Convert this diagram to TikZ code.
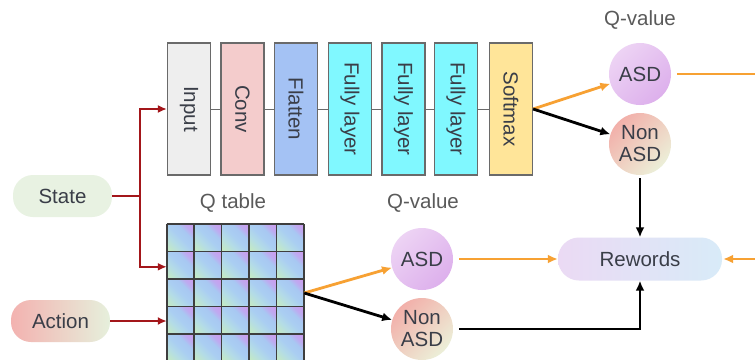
\documentclass[tikz,border=0pt]{standalone}
\usepackage{fontspec}
\setmainfont{Liberation Sans}
\usetikzlibrary{arrows.meta,calc}
\definecolor{txt}{HTML}{3A3E48}
\definecolor{lbl}{HTML}{5A5A5A}
\definecolor{boxline}{HTML}{6A6A6A}
\definecolor{gridc}{HTML}{3E3E3E}
\definecolor{cinput}{HTML}{EEEEEE}
\definecolor{cconv}{HTML}{F4CCCC}
\definecolor{cflat}{HTML}{A4C2F4}
\definecolor{cfc}{HTML}{80F8FF}
\definecolor{csoft}{HTML}{FFE599}
\definecolor{dred}{HTML}{A3161A}
\definecolor{orng}{HTML}{F7A133}
\definecolor{cgreen}{HTML}{C4EAC4}
\definecolor{cmid}{HTML}{B4DCE6}
\definecolor{cblue}{HTML}{AACEF2}
\definecolor{cblue2}{HTML}{A8C8F2}
\definecolor{cpurpA}{HTML}{BEAAF0}
\definecolor{cpurp}{HTML}{CC9CEE}
\definecolor{stateg}{HTML}{E8F2E2}
\definecolor{actl}{HTML}{F3B2B0}
\definecolor{actr}{HTML}{E6F0DC}
\definecolor{asdA}{HTML}{EDD3F4}
\definecolor{asdB}{HTML}{DDB0EC}
\definecolor{nonA}{HTML}{F2B0AA}
\definecolor{nonB}{HTML}{ECEFD8}
\definecolor{rewA}{HTML}{EBDAF4}
\definecolor{rewB}{HTML}{D8EBF8}
\pgfdeclarehorizontalshading{qcell}{100bp}{color(0bp)=(cgreen);color(18bp)=(cgreen);color(36bp)=(cmid);color(50bp)=(cblue);color(63bp)=(cblue2);color(72bp)=(cpurpA);color(84bp)=(cpurp);color(100bp)=(cpurp)}
\begin{document}
\begin{tikzpicture}[x=1pt,y=-1pt,
  every node/.style={font=\fontsize{20.5}{22}\selectfont, text=txt},
  layer/.style={draw=boxline, line width=1.2pt, minimum width=43pt, minimum height=132pt, inner sep=0pt},
  pill/.style={rounded corners=20pt, minimum width=99pt, minimum height=42pt, inner sep=0pt},
  ball/.style={circle, minimum size=62pt, inner sep=0pt, align=center},
  lab/.style={text=lbl},
  link/.style={draw=boxline, line width=1pt},
  redline/.style={draw=dred, line width=1.8pt},
  redarrow/.style={redline, -{Latex[length=9pt,width=8pt]}},
  orangeline/.style={draw=orng, line width=2.8pt},
  orangearrow/.style={orangeline, -{Latex[length=10pt,width=9pt]}},
  blackarrow/.style={draw=black, line width=2.8pt, -{Latex[length=10pt,width=9pt]}},
  cell/.style={shading=qcell, shading angle=45},
  gridline/.style={draw=gridc, line width=1.6pt}
]
\useasboundingbox (0,0) rectangle (755,359);
\clip (0,0) rectangle (755,359);
\fill[white] (0,0) rectangle (755,359);

% CNN layers
\node[layer, fill=cinput] (input) at (189,109) {\rotatebox{-90}{Input}};
\node[layer, fill=cconv] (conv) at (242.5,109) {\rotatebox{-90}{Conv}};
\node[layer, fill=cflat] (flat) at (296,109) {\rotatebox{-90}{Flatten}};
\node[layer, fill=cfc] (fc1) at (350,109) {\rotatebox{-90}{Fully layer}};
\node[layer, fill=cfc] (fc2) at (403.5,109) {\rotatebox{-90}{Fully layer}};
\node[layer, fill=cfc] (fc3) at (456,109) {\rotatebox{-90}{Fully layer}};
\node[layer, fill=csoft] (soft) at (511,109) {\rotatebox{-90}{Softmax}};
\draw[link] (input) -- (conv);
\draw[link] (conv) -- (flat);
\draw[link] (flat) -- (fc1);
\draw[link] (fc1) -- (fc2);
\draw[link] (fc2) -- (fc3);
\draw[link] (fc3) -- (soft);

% inputs
\node[pill, fill=stateg] (state) at (62.5,196) {State};
\node[pill, left color=actl, right color=actr] (action) at (60.5,321) {Action};

% Q table
\node[lab] (qtlab) at (233,203) {Q table};
\node[minimum width=137pt, minimum height=138pt, inner sep=0pt] (qt) at (235.5,293) {};
\foreach \i in {0,...,4}{
  \foreach \j in {0,...,4}{
    \path[cell] ($(qt.north west)+(\i*27.4,\j*27.6)$) rectangle +(27.4,27.6);
  }
}
\foreach \i in {0,...,5}{
  \draw[gridline] ($(qt.north west)+(\i*27.4,0)$) -- +(0,138);
  \draw[gridline] ($(qt.north west)+(0,\i*27.6)$) -- +(137,0);
}

% Q-values
\node[lab] (qv1) at (640,20) {Q-value};
\node[ball, top color=asdA, bottom color=asdB, shading angle=45] (asd1) at (640,74) {ASD};
\node[ball, top color=nonA, bottom color=nonB, shading angle=45] (non1) at (640,144) {Non\\ASD};
\node[lab] (qv2) at (423,203) {Q-value};
\node[ball, top color=asdA, bottom color=asdB, shading angle=45] (asd2) at (422,259) {ASD};
\node[ball, top color=nonA, bottom color=nonB, shading angle=45] (non2) at (422,329) {Non\\ASD};

% Rewords
\node[rounded corners=21pt, minimum width=164pt, minimum height=43pt, inner sep=0pt, left color=rewA, right color=rewB] (rew) at (640,259) {Rewords};

% connectors
\coordinate (j) at (140,196);
\coordinate (qtin) at ($(qt.north west)+(0,43)$);
\coordinate (redge1) at (757,74);
\coordinate (redge2) at (757,259);
\draw[redline] (state.east) -- (j);
\draw[redarrow] (j) |- (input.west);
\draw[redarrow] (j) |- (qtin);
\draw[redarrow] (action.east) -- (action.east -| qt.west);

\draw[orangearrow] (soft.east) -- (asd1);
\draw[blackarrow] (soft.east) -- (non1);
\draw[blackarrow, shorten <=3pt] (non1) -- (rew);
\draw[orangeline, shorten <=6pt] (asd1.east) -- (redge1);
\draw[orangearrow, shorten >=1pt] (redge2) -- (rew.east);

\draw[orangearrow] (qt.east) -- (asd2);
\draw[blackarrow] (qt.east) -- (non2);
\draw[orangearrow, shorten <=6pt] (asd2.east) -- (rew.west);
\draw[blackarrow, shorten <=6pt] (non2.east) -| (rew.south);
\end{tikzpicture}
\end{document}
